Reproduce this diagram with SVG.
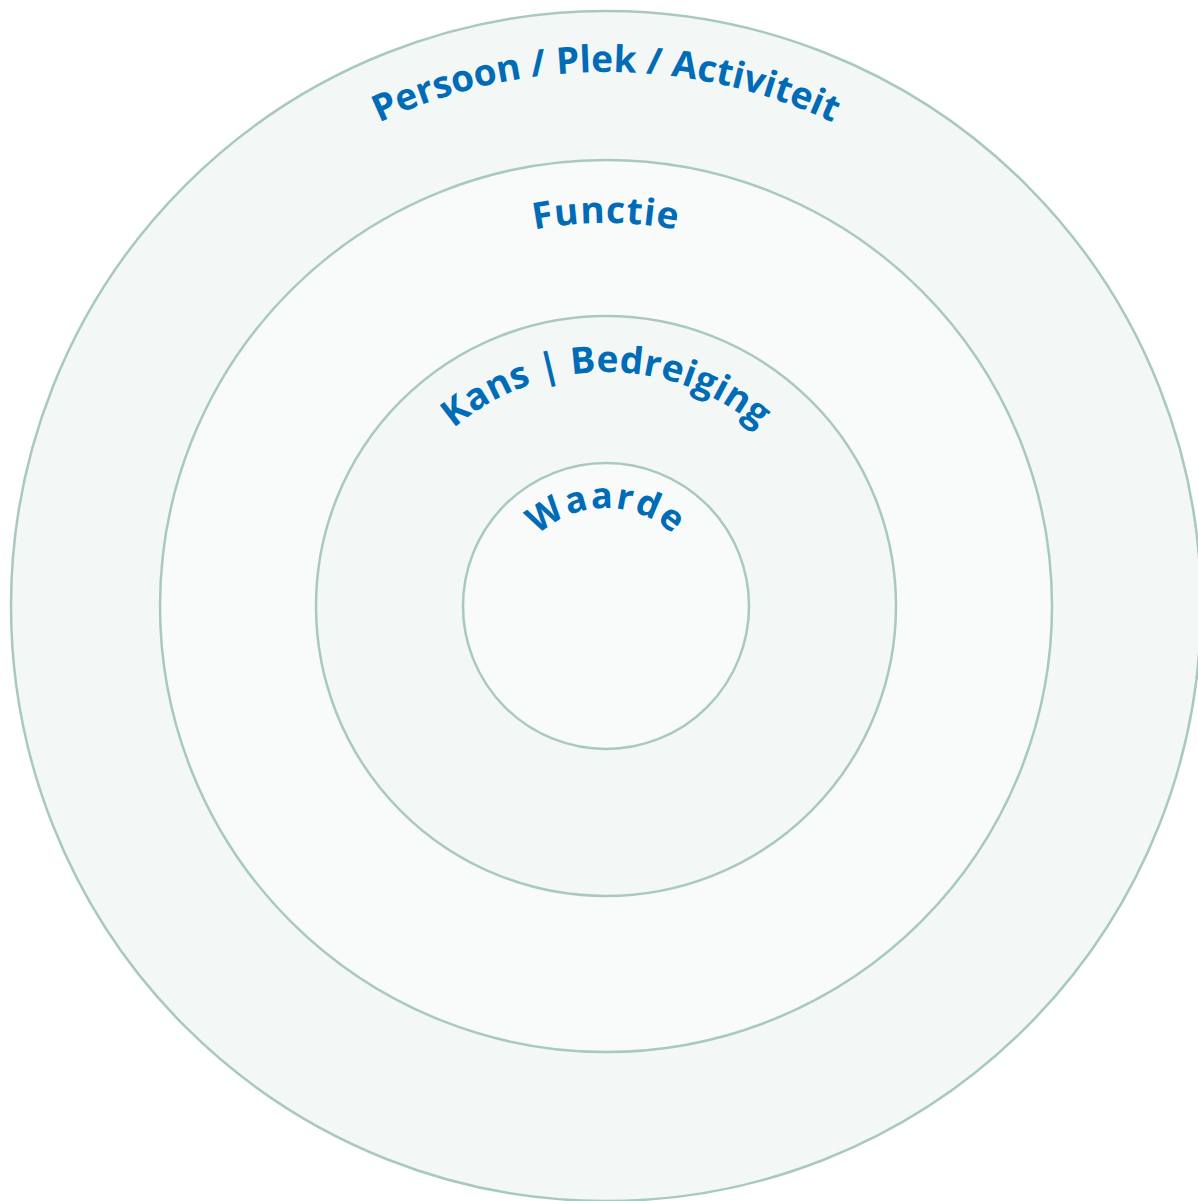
<svg xmlns="http://www.w3.org/2000/svg" xmlns:xlink="http://www.w3.org/1999/xlink" width="1198" height="1201" viewBox="0 0 1198 1201">
<style>
.ring{stroke:#a8cabd;stroke-width:2.5}
.a{fill:#f3f8f6}
.b{fill:#f9fbfb}
.lbl{font-family:"Open Sans","Liberation Sans",sans-serif;font-weight:bold;fill:#006bb6}
</style>
<defs>
<path id="p1" d="M72,606 A534,534 0 0 1 1140,606"/>
<path id="p2" d="M223,606 A383,383 0 0 1 989,606"/>
<path id="p3" d="M372,606 A234,234 0 0 1 840,606"/>
<path id="p4" d="M508,606 A98,98 0 0 1 704,606"/>
</defs>
<rect width="1198" height="1201" fill="#ffffff"/>
<g id="ring1"><circle class="ring a" cx="606" cy="606" r="595"/></g>
<g id="ring2"><circle class="ring b" cx="606" cy="606" r="446"/></g>
<g id="ring3"><circle class="ring a" cx="606" cy="606" r="290"/></g>
<g id="ring4"><circle class="ring b" cx="606" cy="606" r="143"/></g>
<g id="labels">
<text class="lbl" font-size="37" letter-spacing="0"><textPath xlink:href="#p1" href="#p1" startOffset="50%" text-anchor="middle">Persoon / Plek / Activiteit</textPath></text>
<text class="lbl" font-size="37" letter-spacing="1"><textPath xlink:href="#p2" href="#p2" startOffset="50%" text-anchor="middle">Functie</textPath></text>
<text class="lbl" font-size="37" letter-spacing="0.3"><textPath xlink:href="#p3" href="#p3" startOffset="50%" text-anchor="middle">Kans | Bedreiging</textPath></text>
<text class="lbl" font-size="36" letter-spacing="2"><textPath xlink:href="#p4" href="#p4" startOffset="50%" text-anchor="middle">Waarde</textPath></text>
</g>
</svg>
